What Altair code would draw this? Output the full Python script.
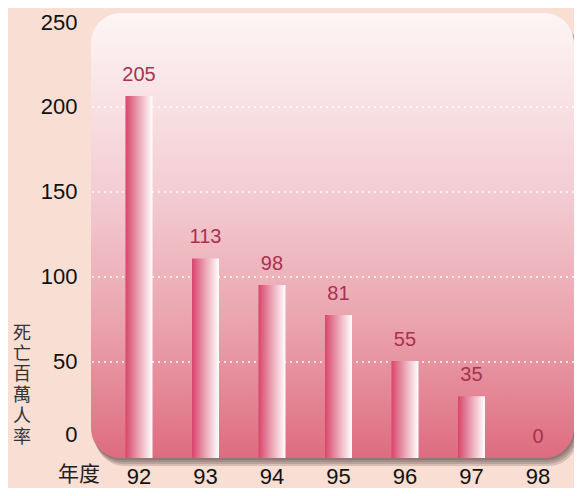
import altair as alt
import pandas as pd

years = ["92", "93", "94", "95", "96", "97", "98"]
rates = [205, 113, 98, 81, 55, 35, 0]
y_ticks = [0, 50, 100, 150, 200, 250]
grid_vals = [50, 100, 150, 200]
y_title_chars = ["死", "亡", "百", "萬", "人", "率"]
x_title = "年度"

W, H = 483, 445
AX_MIN, AX_MAX = -6.5, 255.3      # axis / grid scale
BAR_MAX = 252                      # bar scale (zero at panel bottom)

df = pd.DataFrame({"year": years, "rate": rates})
one = pd.DataFrame({"k": [0]})

axis_scale = alt.Scale(domain=[AX_MIN, AX_MAX], nice=False, zero=False)
bar_scale = alt.Scale(domain=[0, BAR_MAX], nice=False)
xscale = alt.Scale(domain=years, paddingInner=0.594, paddingOuter=0.4285, align=0.605)

# shadow layers behind the rounded plot panel
shadows = [
    alt.Chart(one).mark_rect(cornerRadius=30, color="#2a1a1a", opacity=0.16).encode(
        x=alt.value(dx), x2=alt.value(W + dx), y=alt.value(dy), y2=alt.value(H + dy)
    )
    for dx, dy in [(1, 2), (2, 4), (3, 6), (4, 8)]
]

panel = alt.Chart(one).mark_rect(
    cornerRadius=30,
    color=alt.Gradient(
        gradient="linear",
        stops=[
            alt.GradientStop(color="#fdf5f5", offset=0),
            alt.GradientStop(color="#f3cdd3", offset=0.4),
            alt.GradientStop(color="#eaa3ad", offset=0.7),
            alt.GradientStop(color="#de6c80", offset=1),
        ],
        x1=0, x2=0, y1=0, y2=1,
    ),
).encode(x=alt.value(0), x2=alt.value(W), y=alt.value(0), y2=alt.value(H))

grid = alt.Chart(pd.DataFrame({"g": grid_vals})).mark_rule(
    color="white", strokeDash=[2, 4], strokeWidth=1.5
).encode(
    y=alt.Y(
        "g:Q", scale=axis_scale,
        axis=alt.Axis(values=y_ticks, title=None, domain=False, ticks=False, grid=False,
                      labelFontSize=22, labelColor="#111111", labelPadding=14,
                      labelFont="Liberation Sans",
                      labelBaseline=alt.expr("datum.value == 0 ? 'bottom' : 'middle'")),
    )
)

bars = alt.Chart(df).mark_bar(
    color=alt.Gradient(
        gradient="linear",
        stops=[
            alt.GradientStop(color="#d9446a", offset=0),
            alt.GradientStop(color="#eba6b6", offset=0.5),
            alt.GradientStop(color="#ffffff", offset=1),
        ],
        x1=0, x2=1, y1=0, y2=0,
    )
).encode(
    x=alt.X(
        "year:N", scale=xscale, sort=years,
        axis=alt.Axis(title=None, labelAngle=0, domain=False, ticks=False,
                      labelFontSize=22, labelColor="#111111", labelPadding=8,
                      labelFont="Liberation Sans"),
    ),
    y=alt.Y("rate:Q", scale=bar_scale, axis=None),
)

labels = alt.Chart(df).mark_text(
    font="Liberation Sans", fontSize=20, color="#a8324f", baseline="middle", dy=-21
).encode(
    x=alt.X("year:N", scale=xscale, sort=years),
    y=alt.Y("rate:Q", scale=bar_scale, axis=None),
    text="rate:Q",
)

ytitle = alt.Chart(pd.DataFrame({"t": ["\n".join(y_title_chars)]})).mark_text(
    font="Noto Sans CJK TC", fontSize=18, lineHeight=20.7, color="#333333",
    lineBreak="\n", baseline="top", align="center"
).encode(x=alt.value(-69), y=alt.value(312), text="t:N")

xtitle = alt.Chart(pd.DataFrame({"t": [x_title]})).mark_text(
    font="Noto Sans CJK TC", fontSize=21, color="#222222", baseline="middle", align="center"
).encode(x=alt.value(-12), y=alt.value(462), text="t:N")

chart = alt.layer(*shadows, panel, grid, bars, labels, ytitle, xtitle).resolve_scale(
    y="independent"
).properties(
    width=W, height=H,
    padding={"left": 83, "top": 5, "right": 0, "bottom": 30},
    autosize="none",
    background="#f8ded3",
).configure_view(stroke=None)

chart.save("out.html", embed_options={"renderer": "svg", "actions": False})
